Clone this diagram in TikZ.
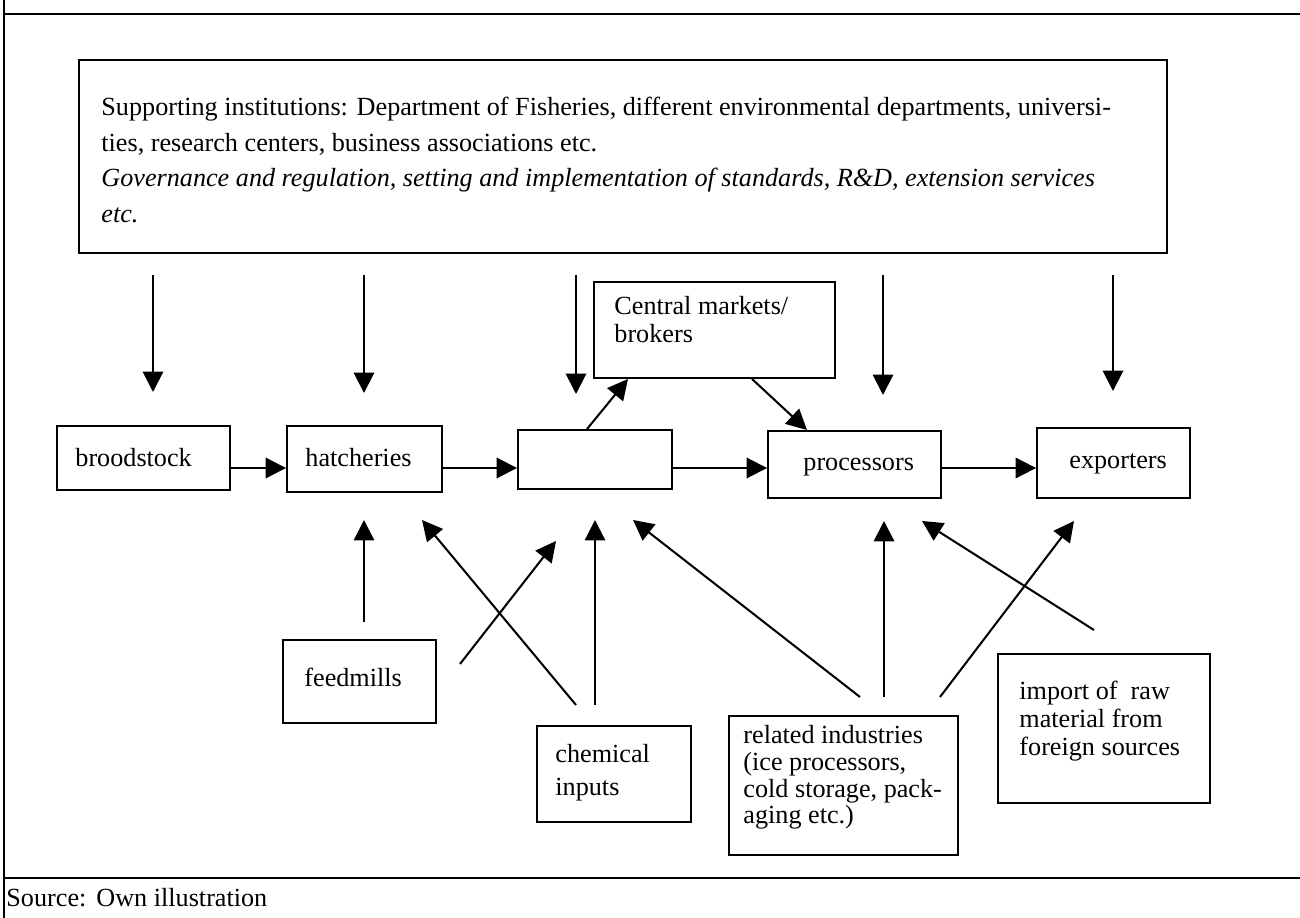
\documentclass[tikz,border=0pt]{standalone}
\usepackage{fontspec}
\setmainfont{Liberation Serif}
\usetikzlibrary{arrows.meta,fit}
\begin{document}
\begin{tikzpicture}[x=0.466pt,y=-0.466pt,
  box/.style={draw,line width=0.9pt,inner sep=0pt},
  lbl/.style={anchor=base west,inner sep=0pt,font=\fontsize{12.2}{14}\selectfont},
  flow/.style={line width=0.95pt,-{Triangle[length=9.5pt,width=9.5pt]}},
  frame/.style={line width=1.3pt}]
\useasboundingbox (0,0) rectangle (1300,918);

% outer frame and source row
\draw[frame] (4,0) -- (4,918);
\draw[frame] (4,14) -- (1300,14);
\draw[frame] (4,878) -- (1300,878);
\node[lbl] (src) at (6,906) {Source:};
\node[lbl] (own) at (96,906) {Own illustration};

% supporting institutions
\node[box,fit={(79,60)(1167,253)}] (inst) {};
\node[lbl] (i1) at (101,116) {Supporting institutions: Department of Fisheries, different environmental departments, universi-};
\node[lbl] (i2) at (101,152) {ties, research centers, business associations etc.};
\node[lbl] (i3) at (101,187) {\itshape Governance and regulation, setting and implementation of standards, R\&D, extension services};
\node[lbl] (i4) at (101,223) {\itshape etc.};

% value chain boxes
\node[box,fit={(57,426)(230,490)}] (brood) {};
\node[lbl] at (75,467) {broodstock};
\node[box,fit={(287,426)(442,492)}] (hatch) {};
\node[lbl] at (305,467) {hatcheries};
\node[box,fit={(518,430)(672,489)}] (farm) {};
\node[box,fit={(594,282)(835,378)}] (cmkt) {};
\node[lbl] at (614,315) {Central markets/};
\node[lbl] at (614,343) {brokers};
\node[box,fit={(768,431)(941,498)}] (proc) {};
\node[lbl] at (803,471) {processors};
\node[box,fit={(1037,428)(1190,498)}] (exp) {};
\node[lbl] at (1069,468) {exporters};

% input boxes
\node[box,fit={(283,640)(436,723)}] (feed) {};
\node[lbl] at (304,686) {feedmills};
\node[box,fit={(537,726)(691,822)}] (chem) {};
\node[lbl] at (555,762) {chemical};
\node[lbl] at (555,795) {inputs};
\node[box,fit={(729,716)(958,855)}] (rel) {};
\node[lbl] at (743,743) {related industries};
\node[lbl] at (743,770) {(ice processors,};
\node[lbl] at (743,797) {cold storage, pack-};
\node[lbl] at (743,823) {aging etc.)};
\node[box,fit={(998,654)(1210,803)}] (imp) {};
\node[lbl] at (1019,699) {import of\ \ raw};
\node[lbl] at (1019,727) {material from};
\node[lbl] at (1019,755) {foreign sources};

% influence of the institutions
\foreach \n/\x/\y in {a/153/392,b/364/393,c/576/394,d/883/395,e/1113/391}{
  \coordinate (s\n) at (\x,275);
  \coordinate (t\n) at (\x,\y);
  \draw[flow] (s\n) -- (t\n);
}

% main flow
\draw[flow] (brood.east |- 0,468) -- (hatch.west |- 0,468);
\draw[flow] (hatch.east |- 0,468) -- (farm.west |- 0,468);
\draw[flow] (farm.east |- 0,468) -- (proc.west |- 0,468);
\draw[flow] (proc.east |- 0,468) -- (exp.west |- 0,468);
\draw[flow] (farm.north -| 587,0) -- (cmkt.south -| 628,0);
\draw[flow] (cmkt.south -| 752,0) -- (proc.north -| 807,0);

% inputs feeding the chain
\coordinate (f1) at (364,622);  \coordinate (h1) at (364,520);
\coordinate (f2) at (460,664);  \coordinate (m1) at (556,541);
\coordinate (c1) at (576,705);  \coordinate (h2) at (422,520);
\coordinate (c2) at (595,705);  \coordinate (m2) at (595,520);
\coordinate (r1) at (860,697);  \coordinate (m3) at (633,520);
\coordinate (r2) at (884,697);  \coordinate (p1) at (884,521);
\coordinate (r3) at (940,697);  \coordinate (x1) at (1074,521);
\coordinate (g1) at (1094,630); \coordinate (p2) at (922,521);
\draw[flow] (f1) -- (h1);
\draw[flow] (f2) -- (m1);
\draw[flow] (c1) -- (h2);
\draw[flow] (c2) -- (m2);
\draw[flow] (r1) -- (m3);
\draw[flow] (r2) -- (p1);
\draw[flow] (r3) -- (x1);
\draw[flow] (g1) -- (p2);
\end{tikzpicture}
\end{document}
